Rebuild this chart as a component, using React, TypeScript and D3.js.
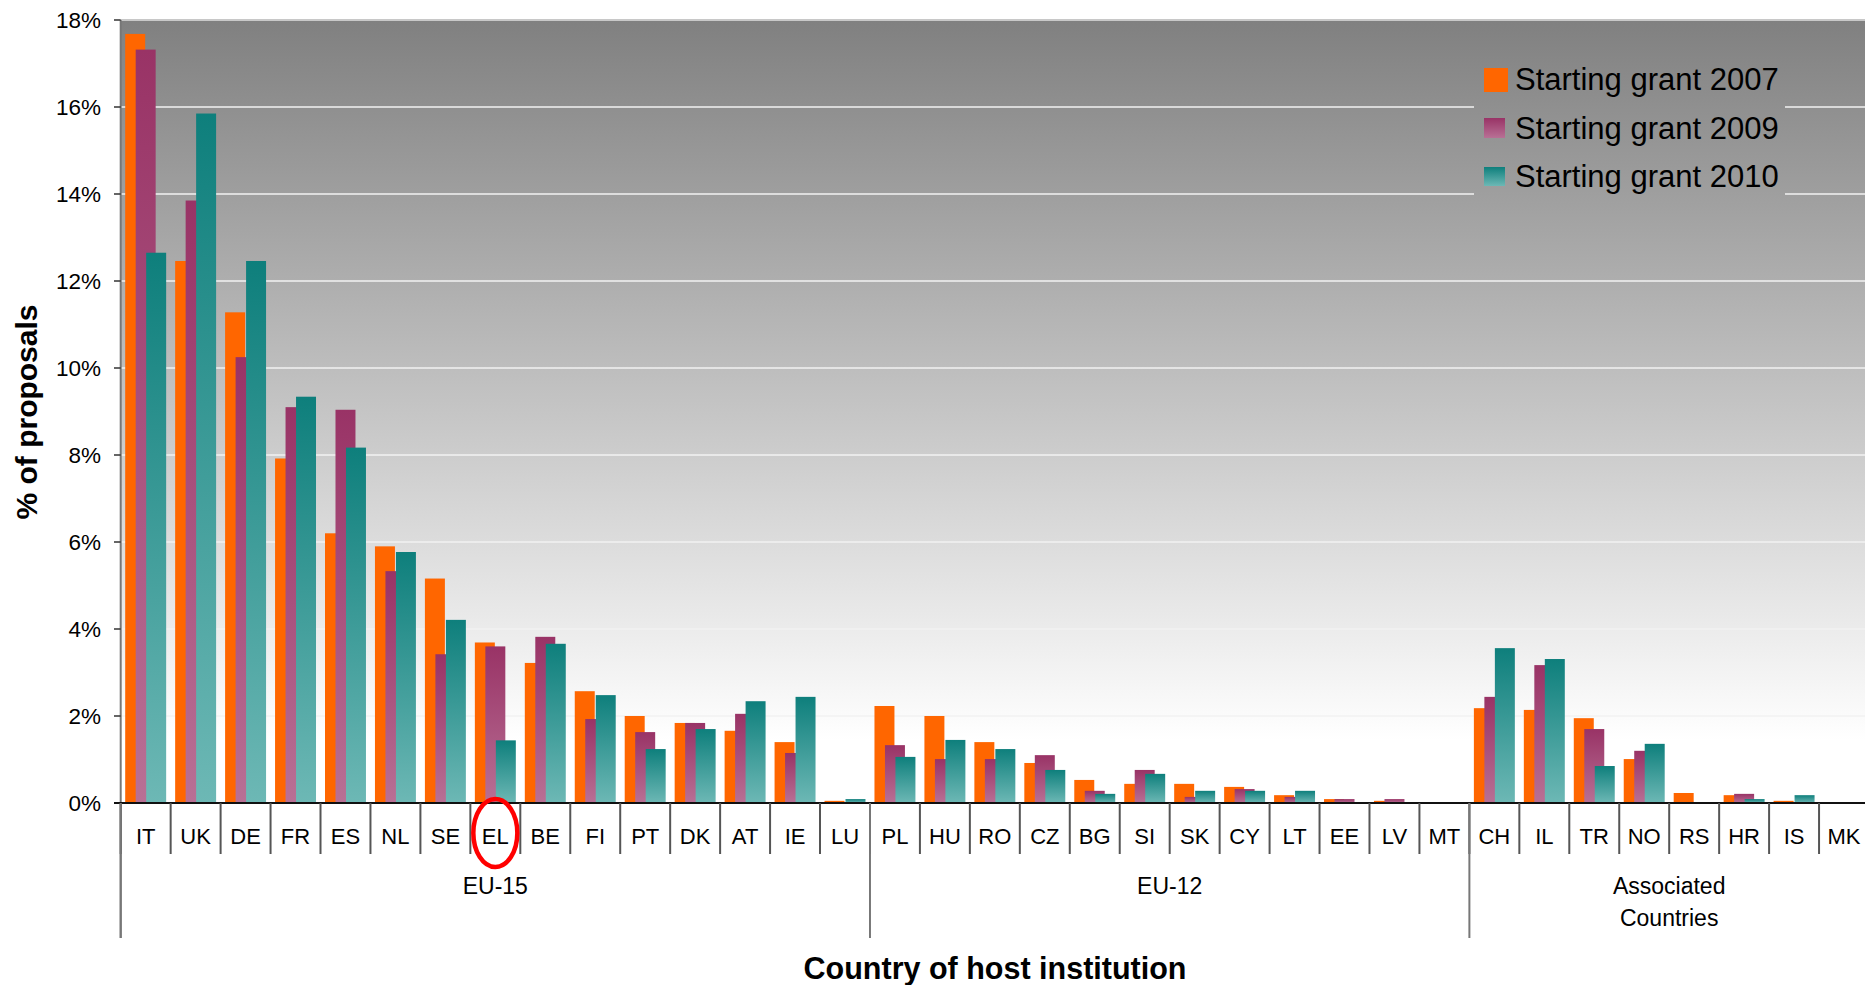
import React from 'react';
import * as d3 from 'd3';

const categories = ['IT','UK','DE','FR','ES','NL','SE','EL','BE','FI','PT','DK','AT','IE','LU',
  'PL','HU','RO','CZ','BG','SI','SK','CY','LT','EE','LV','MT',
  'CH','IL','TR','NO','RS','HR','IS','MK'];

const sg2007 = [17.68,12.46,11.28,7.92,6.20,5.90,5.16,3.69,3.22,2.57,2.00,1.84,1.66,1.40,0.05,
  2.23,2.00,1.40,0.92,0.53,0.44,0.44,0.37,0.18,0.09,0.05,0,
  2.18,2.14,1.95,1.01,0.23,0.18,0.05,0];
const sg2009 = [17.32,13.85,10.25,9.10,9.04,5.33,3.42,3.60,3.82,1.93,1.63,1.84,2.05,1.15,0,
  1.33,1.01,1.01,1.10,0.28,0.76,0.14,0.32,0.14,0.09,0.09,0,
  2.44,3.17,1.70,1.20,0,0.21,0,0];
const sg2010 = [12.65,15.85,12.46,9.34,8.17,5.77,4.21,1.44,3.66,2.48,1.24,1.70,2.34,2.44,0.09,
  1.06,1.45,1.24,0.76,0.21,0.67,0.28,0.28,0.28,0,0,0,
  3.56,3.31,0.85,1.36,0,0.09,0.18,0];

const seriesNames = ['Starting grant 2007','Starting grant 2009','Starting grant 2010'];
const groupLabels = [['EU-15'], ['EU-12'], ['Associated', 'Countries']];
const groupStarts = ['IT', 'PL', 'CH'];
const groupEnds = ['LU', 'MT', 'MK'];
const yTicks = [0,2,4,6,8,10,12,14,16,18];

const W = 1865, H = 985;
const left = 120.7, right = 1869, top = 20, base = 803;
const FONT = '"Liberation Sans", Arial, sans-serif';

export default function App() {
  const x = d3.scaleBand<string>().domain(categories).range([left, right]).paddingInner(0).paddingOuter(0);
  const y = d3.scaleLinear().domain([0, 18]).range([base, top]);
  const bw = x.bandwidth();
  const barW = bw * 0.4;
  const offs = [bw * 0.09, bw * 0.3, bw * 0.51];
  const fills = ['#FF6600', 'url(#g2009)', 'url(#g2010)'];
  const series = [sg2007, sg2009, sg2010];

  const boundaries = categories.map((c) => x(c)!).concat([right]);

  return (
    <svg width={W} height={H} style={{ position: 'absolute', left: 0, top: 0, background: '#fff' }}
      fontFamily={FONT}>
      <defs>
        <linearGradient id="bg" gradientUnits="userSpaceOnUse" x1={0} y1={top} x2={0} y2={base}>
          <stop offset="0" stopColor="#808080" />
          <stop offset="0.92" stopColor="#ffffff" />
          <stop offset="1" stopColor="#ffffff" />
        </linearGradient>
        <linearGradient id="g2009" x1="0" y1="0" x2="0" y2="1">
          <stop offset="0" stopColor="#993366" />
          <stop offset="1" stopColor="#B87095" />
        </linearGradient>
        <linearGradient id="g2010" x1="0" y1="0" x2="0" y2="1">
          <stop offset="0" stopColor="#0E7F7C" />
          <stop offset="1" stopColor="#6DB8B5" />
        </linearGradient>
      </defs>

      {/* plot background */}
      <rect x={left} y={top} width={right - left} height={base - top} fill="url(#bg)" />
      <line x1={left} x2={right} y1={top} y2={top} stroke="#c8c8c8" strokeWidth={2} />
      {yTicks.filter((t) => t > 0 && t < 18).map((t) => (
        <line key={t} x1={left} x2={right} y1={y(t)} y2={y(t)} stroke="#f2f2f2" strokeWidth={1.5} />
      ))}

      {/* legend box hides gridlines */}
      <rect x={1474} y={45} width={311} height={160} fill="url(#bg)" />

      {/* bars */}
      {series.map((vals, si) => (
        <g key={si}>
          {categories.map((c, i) => vals[i] > 0 ? (
            <rect key={c} x={x(c)! + offs[si]} y={y(vals[i])} width={barW}
              height={base - y(vals[i])} fill={fills[si]} />
          ) : null)}
        </g>
      ))}

      {/* y axis */}
      <line x1={left} x2={left} y1={top} y2={938} stroke="#777" strokeWidth={2} />
      {yTicks.map((t) => (
        <g key={t}>
          <line x1={114} x2={left} y1={y(t)} y2={y(t)} stroke="#333" strokeWidth={1.5} />
          <text x={101} y={y(t)} dy="0.36em" textAnchor="end" fontSize={22.5} fill="#000">{t}%</text>
        </g>
      ))}

      {/* x axis */}
      <line x1={114} x2={right} y1={base} y2={base} stroke="#111" strokeWidth={2} />
      {boundaries.map((b, i) => (
        <line key={i} x1={b} x2={b} y1={base} y2={854} stroke="#555" strokeWidth={2} />
      ))}
      {groupStarts.map((g) => (
        <line key={g} x1={x(g)!} x2={x(g)!} y1={base} y2={938} stroke="#777" strokeWidth={2} />
      ))}
      {categories.map((c) => (
        <text key={c} x={x(c)! + bw / 2} y={844} textAnchor="middle" fontSize={22} fill="#000">{c}</text>
      ))}
      {groupLabels.map((lines, gi) => {
        const cx = (x(groupStarts[gi])! + x(groupEnds[gi])! + bw) / 2;
        return (
          <text key={gi} x={cx} y={894} textAnchor="middle" fontSize={23} fill="#000">
            {lines.map((l, li) => (
              <tspan key={li} x={cx} dy={li === 0 ? 0 : 32}>{l}</tspan>
            ))}
          </text>
        );
      })}

      {/* highlight EL */}
      <ellipse cx={x('EL')! + bw / 2} cy={833} rx={22} ry={34} fill="none" stroke="#FF0000" strokeWidth={4.5} />

      {/* axis titles */}
      <text x={995} y={979} textAnchor="middle" fontSize={30.5} fontWeight="bold" fill="#000">Country of host institution</text>
      <text transform="translate(37,412) rotate(-90)" textAnchor="middle" fontSize={30} fontWeight="bold" fill="#000">% of proposals</text>

      {/* legend */}
      <rect x={1484} y={68} width={24} height={24} fill="#FF6600" />
      <rect x={1484} y={118} width={21} height={20} fill="url(#g2009)" />
      <rect x={1484} y={167} width={21} height={19} fill="url(#g2010)" />
      {seriesNames.map((n, i) => (
        <text key={n} x={1515} y={90 + i * 48.5} fontSize={31} fill="#000">{n}</text>
      ))}
    </svg>
  );
}
